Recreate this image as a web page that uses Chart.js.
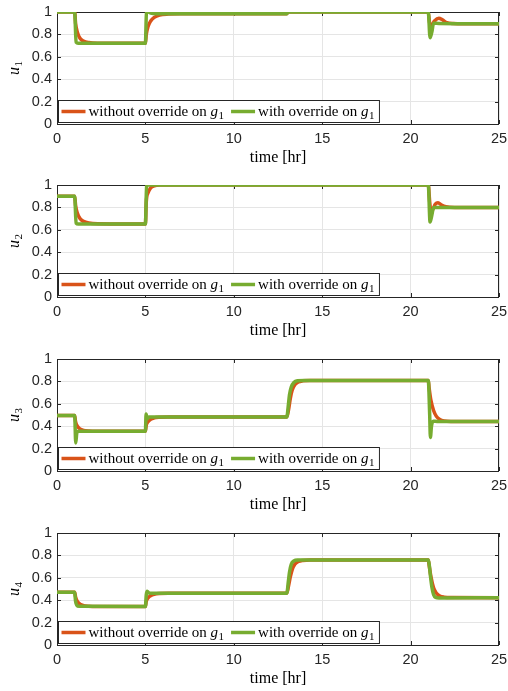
<!DOCTYPE html>
<html>
<head>
<meta charset="utf-8">
<script src="https://cdn.jsdelivr.net/npm/chart.js@4.4.0/dist/chart.umd.min.js"></script>
<style>
  body { margin: 0; background: #fff; }
  #figure { position: relative; width: 508px; height: 691px; }
  #figure canvas { position: absolute; left: 0; }
</style>
</head>
<body>
<div id="figure">
  <canvas id="plotU1" width="508" height="170" style="top:0px"></canvas>
  <canvas id="plotU2" width="508" height="170" style="top:173px"></canvas>
  <canvas id="plotU3" width="508" height="170" style="top:347px"></canvas>
  <canvas id="plotU4" width="508" height="170" style="top:521px"></canvas>
</div>

<script>
// ticks
const xTicks = [0, 5, 10, 15, 20, 25];
const yTicks = [0, 0.2, 0.4, 0.6, 0.8, 1];

const seriesLabels = ["without override on g₁", "with override on g₁"];
const seriesColors = ["#D95319", "#77AC30"];

// [time (hr), value] samples
const u1Without = [[0,1],[1,1],[1.05,0.9],[1.15,0.82],[1.3,0.765],[1.5,0.74],[1.8,0.727],[2.3,0.721],[3,0.72],[5,0.72],
  [5.05,0.8],[5.15,0.87],[5.3,0.92],[5.5,0.952],[5.8,0.972],[6.3,0.981],[7,0.984],[13,0.985],[13.05,1],[21,1],
  [21.08,0.9],[21.2,0.885],[21.35,0.92],[21.6,0.945],[21.8,0.93],[22.05,0.905],[22.4,0.897],[23,0.895],[25,0.895]];
const u1With = [[0,1],[1,1],[1.08,0.73],[1.2,0.722],[1.5,0.72],[5,0.72],[5.06,0.99],[5.15,1],[5.3,0.99],[5.6,0.985],
  [13,0.985],[13.05,1],[21,1],[21.1,0.77],[21.2,0.82],[21.3,0.9],[21.6,0.898],[25,0.895]];

const u2Without = [[0,0.9],[1,0.9],[1.05,0.82],[1.15,0.75],[1.3,0.7],[1.5,0.675],[1.8,0.66],[2.3,0.653],[3,0.652],[5,0.652],
  [5.05,0.85],[5.15,0.93],[5.3,0.975],[5.5,0.993],[5.8,1],[21,1],[21.08,0.85],[21.15,0.76],[21.25,0.78],[21.4,0.83],
  [21.55,0.842],[21.75,0.82],[22,0.805],[22.5,0.8],[25,0.8]];
const u2With = [[0,0.9],[1,0.9],[1.08,0.66],[1.2,0.652],[5,0.652],[5.07,0.99],[5.15,1],[21,1],[21.1,0.67],[21.2,0.73],
  [21.3,0.8],[25,0.8]];

const u3Without = [[0,0.495],[1,0.495],[1.05,0.44],[1.15,0.4],[1.3,0.375],[1.5,0.363],[1.8,0.357],[2.3,0.355],[5,0.355],
  [5.05,0.41],[5.15,0.44],[5.3,0.462],[5.5,0.474],[5.8,0.48],[6.3,0.483],[13,0.483],[13.1,0.55],[13.2,0.65],[13.3,0.72],
  [13.45,0.77],[13.65,0.795],[13.9,0.805],[14.3,0.808],[21,0.808],[21.05,0.74],[21.15,0.63],[21.3,0.54],[21.45,0.49],
  [21.65,0.46],[21.9,0.447],[22.3,0.443],[25,0.442]];
const u3With = [[0,0.495],[1,0.495],[1.06,0.25],[1.12,0.34],[1.2,0.355],[5,0.355],[5.04,0.51],[5.1,0.465],[5.2,0.483],
  [13,0.483],[13.08,0.58],[13.15,0.68],[13.25,0.75],[13.4,0.79],[13.6,0.805],[14,0.808],[21,0.808],[21.08,0.5],
  [21.12,0.3],[21.18,0.4],[21.28,0.445],[21.5,0.443],[25,0.442]];

const u4Without = [[0,0.47],[1,0.47],[1.05,0.43],[1.15,0.39],[1.3,0.365],[1.5,0.352],[1.8,0.346],[2.3,0.344],[5,0.344],
  [5.05,0.39],[5.15,0.42],[5.3,0.44],[5.5,0.452],[5.8,0.459],[6.3,0.462],[13,0.463],[13.1,0.53],[13.2,0.61],[13.3,0.67],
  [13.45,0.72],[13.65,0.745],[13.9,0.755],[14.3,0.758],[21,0.758],[21.05,0.71],[21.15,0.61],[21.3,0.51],[21.45,0.465],
  [21.65,0.438],[21.9,0.427],[22.3,0.423],[25,0.422]];
const u4With = [[0,0.47],[1,0.47],[1.05,0.39],[1.12,0.355],[1.25,0.345],[5,0.344],[5.05,0.45],[5.1,0.48],[5.2,0.465],
  [5.4,0.463],[13,0.463],[13.08,0.56],[13.15,0.65],[13.25,0.72],[13.4,0.75],[13.6,0.758],[21,0.758],[21.05,0.72],
  [21.12,0.62],[21.2,0.52],[21.3,0.45],[21.42,0.425],[21.6,0.42],[25,0.422]];

const serif = '"Liberation Serif", "Times New Roman", serif';
const sans = '"Liberation Sans", Arial, sans-serif';

// draws "base" with an italic variable and a lowered subscript digit, e.g. "on g₁"
function drawMathText(ctx, text, x, y, size, allItalic) {
  const last = text.charCodeAt(text.length - 1);
  const hasSub = last >= 0x2080 && last <= 0x2089;
  const sub = hasSub ? String.fromCharCode(last - 0x2080 + 48) : "";
  const body = hasSub ? text.slice(0, -1) : text;
  const plain = allItalic ? "" : body.slice(0, -1);
  const varName = allItalic ? body : body.slice(-1);
  ctx.textBaseline = "alphabetic";
  ctx.textAlign = "left";
  ctx.font = size + "px " + serif;
  ctx.fillText(plain, x, y);
  x += ctx.measureText(plain).width;
  ctx.font = "italic " + size + "px " + serif;
  ctx.fillText(varName, x, y);
  x += ctx.measureText(varName).width + 0.5;
  ctx.font = Math.round(size * 0.7) + "px " + serif;
  ctx.fillText(sub, x, y + 2.5);
  return x + ctx.measureText(sub).width;
}

function mathTextWidth(ctx, text, size, allItalic) {
  ctx.save();
  ctx.globalAlpha = 0;
  const w = drawMathText(ctx, text, 0, 0, size, allItalic);
  ctx.restore();
  return w;
}

// axes box with inward tick marks, like a classic plotting package
const axesBox = {
  id: "axesBox",
  beforeDatasetsDraw(chart) {
    const { ctx, chartArea: a, scales: { x, y } } = chart;
    ctx.save();
    ctx.strokeStyle = "#262626";
    ctx.lineWidth = 1;
    ctx.beginPath();
    xTicks.forEach(v => {
      const px = Math.round(x.getPixelForValue(v)) + 0.5;
      ctx.moveTo(px, a.bottom); ctx.lineTo(px, a.bottom - 4);
      ctx.moveTo(px, a.top); ctx.lineTo(px, a.top + 4);
    });
    yTicks.forEach(v => {
      const py = Math.round(y.getPixelForValue(v)) + 0.5;
      ctx.moveTo(a.left, py); ctx.lineTo(a.left + 4, py);
      ctx.moveTo(a.right, py); ctx.lineTo(a.right - 4, py);
    });
    ctx.stroke();
    ctx.strokeRect(a.left + 0.5, a.top + 0.5, a.right - a.left - 1, a.bottom - a.top);
    ctx.restore();
  },
  afterDatasetsDraw(chart, args, opts) {
    const { ctx, chartArea: a } = chart;
    const size = 15;
    ctx.save();

    // y axis label, rotated
    ctx.translate(19, (a.top + a.bottom) / 2);
    ctx.rotate(-Math.PI / 2);
    ctx.fillStyle = "#000";
    const yw = mathTextWidth(ctx, opts.yLabel, 16, true);
    drawMathText(ctx, opts.yLabel, -yw / 2, 0, 16, true);
    ctx.setTransform(1, 0, 0, 1, 0, 0);

    // legend box in the lower left corner
    const sample = 24;
    const items = chart.data.datasets.map(ds => ({ color: ds.borderColor, text: ds.label }));
    let w = 3;
    items.forEach((it, i) => {
      it.x = w;
      it.w = mathTextWidth(ctx, it.text, size, false);
      w += sample + 3 + it.w + (i < items.length - 1 ? 7 : 5);
    });
    const h = 22;
    const bx = a.left + 1.5, by = a.bottom - 1.5 - h;
    ctx.fillStyle = "#fff";
    ctx.fillRect(bx, by, w, h);
    ctx.strokeStyle = "#262626";
    ctx.lineWidth = 1;
    ctx.strokeRect(bx, by, w, h);
    const cy = by + h / 2;
    items.forEach(it => {
      ctx.strokeStyle = it.color;
      ctx.lineWidth = 3.5;
      ctx.beginPath();
      ctx.moveTo(bx + it.x, cy);
      ctx.lineTo(bx + it.x + sample, cy);
      ctx.stroke();
      ctx.fillStyle = "#000";
      drawMathText(ctx, it.text, bx + it.x + sample + 3, cy + 4.5, size, false);
    });
    ctx.restore();
  }
};

function toPoints(pairs) {
  return pairs.map(p => ({ x: p[0], y: p[1] }));
}

function makePanel(canvasId, yLabel, without, withOverride) {
  const lineStyle = {
    pointRadius: 0,
    borderWidth: 3.5,
    cubicInterpolationMode: "monotone",
    borderJoinStyle: "round",
    fill: false
  };
  return new Chart(document.getElementById(canvasId), {
    type: "line",
    data: {
      datasets: [
        Object.assign({ label: seriesLabels[0], data: toPoints(without), borderColor: seriesColors[0], order: 1 }, lineStyle),
        Object.assign({ label: seriesLabels[1], data: toPoints(withOverride), borderColor: seriesColors[1], order: 0 }, lineStyle)
      ]
    },
    options: {
      responsive: false,
      animation: false,
      devicePixelRatio: 1,
      layout: { padding: { left: 0, right: 9, top: 12, bottom: 0 } },
      plugins: {
        legend: { display: false },
        tooltip: { enabled: false },
        axesBox: { yLabel: yLabel }
      },
      scales: {
        x: {
          type: "linear",
          min: 0,
          max: 25,
          afterBuildTicks: s => { s.ticks = xTicks.map(v => ({ value: v })); },
          afterFit: s => { s.height = 46; s.paddingLeft = 0; s.paddingRight = 0; },
          grid: { color: "#e5e5e5", drawTicks: false },
          border: { display: false },
          ticks: { color: "#262626", padding: 6, font: { family: sans, size: 14.5 }, maxRotation: 0 },
          title: {
            display: true,
            text: "time [hr]",
            color: "#000",
            font: { family: serif, size: 16 },
            padding: { top: 0, bottom: 3 }
          }
        },
        y: {
          min: 0,
          max: 1,
          afterBuildTicks: s => { s.ticks = yTicks.map(v => ({ value: v })); },
          afterFit: s => { s.width = 57; s.paddingTop = 0; s.paddingBottom = 0; },
          grid: { color: "#e5e5e5", drawTicks: false },
          border: { display: false },
          ticks: {
            color: "#262626",
            padding: 5,
            font: { family: sans, size: 14.5 },
            callback: v => String(Math.round(v * 10) / 10)
          }
        }
      }
    },
    plugins: [axesBox]
  });
}

makePanel("plotU1", "u₁", u1Without, u1With);
makePanel("plotU2", "u₂", u2Without, u2With);
makePanel("plotU3", "u₃", u3Without, u3With);
makePanel("plotU4", "u₄", u4Without, u4With);
</script>
</body>
</html>
